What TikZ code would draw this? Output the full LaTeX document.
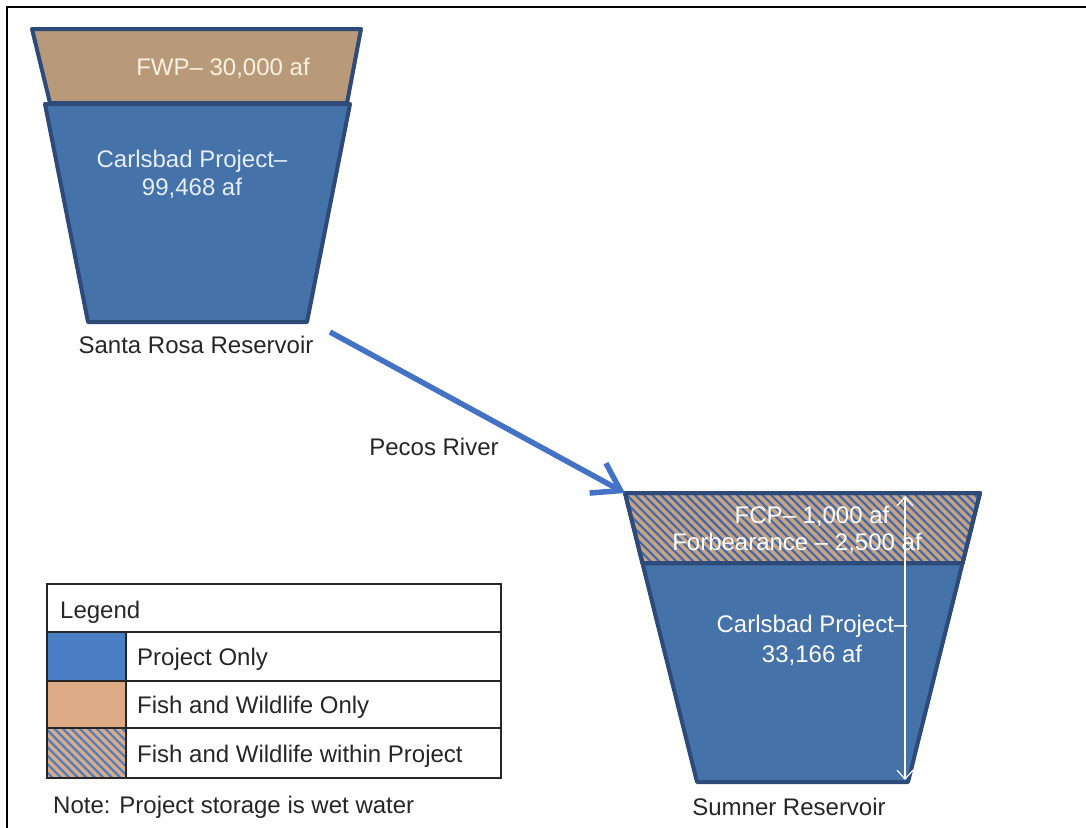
\documentclass[tikz,border=0pt]{standalone}
\usepackage{fontspec}
\setmainfont{Liberation Sans}
\usepackage{xcolor}
\usepackage{tikz}
\usetikzlibrary{arrows.meta,positioning,patterns.meta}
\definecolor{projblue}{HTML}{4672AA}
\definecolor{edgeblue}{HTML}{2E4A78}
\definecolor{fwtan}{HTML}{B89A7A}
\definecolor{hatchtan}{HTML}{C9A27E}
\definecolor{legblue}{HTML}{4A7EC4}
\definecolor{legtan}{HTML}{DCAA84}
\definecolor{hatchblue}{HTML}{3F68B0}
\definecolor{riverblue}{HTML}{4472C4}
\definecolor{bk85}{HTML}{262626}
\definecolor{cream}{HTML}{FBF1E0}
\definecolor{paleblue}{HTML}{E6EEF8}
\tikzset{
  bigfont/.style={font=\fontsize{24}{28}\selectfont},
  reslabel/.style={bigfont, text=bk85, inner sep=0pt, anchor=base},
  intext/.style={bigfont, text=#1, inner sep=0pt, anchor=base},
  intext/.default=white,
  legtext/.style={bigfont, text=bk85, inner sep=0pt, anchor=base west},
  resshape/.style={draw=edgeblue, line width=4pt, line join=round, fill=#1},
  hatched/.style={pattern={Lines[angle=-45,distance=6pt,line width=2.2pt]},
    pattern color=#1},
  hatched/.default=hatchblue,
  riverarrow/.style={-{Straight Barb[length=26pt,width=34pt]}, line width=5.5pt,
    color=riverblue},
  dimarrow/.style={{Straight Barb[length=9pt,width=16pt]}-{Straight Barb[length=9pt,width=16pt]},
    line width=1.2pt, white},
  legline/.style={draw=bk85, line width=2pt},
}
\begin{document}
\begin{tikzpicture}[x=1pt, y=-1pt]
  \useasboundingbox (0,0) rectangle (1086,827);
  \draw[line width=2pt] (7,7) rectangle (1120,860);

  % Santa Rosa
  \filldraw[resshape=fwtan] (32,29) -- (361,29) -- (347,103) -- (50,103) -- cycle;
  \filldraw[resshape=projblue] (45,104) -- (350,104) -- (307,322) -- (88,322) -- cycle;
  \node[intext=cream] (fwp) at (223,75) {FWP– 30,000 af};
  \node[intext=paleblue] (rosacp) at (192,167) {Carlsbad Project–};
  \node[intext=paleblue] (rosaaf) at (192,195) {99,468 af};
  \node[reslabel] (rosa) at (196,353) {Santa Rosa Reservoir};

  % Sumner
  \coordinate (sumnertl) at (625,493);
  \filldraw[resshape=projblue] (642.4,563) -- (962.6,563) -- (908,782) -- (697,782) -- cycle;
  \filldraw[resshape=hatchtan, postaction={hatched}] (sumnertl) -- (980,493) -- (962.6,563) -- (642.4,563) -- cycle;
  \draw[resshape=none] (sumnertl) -- (980,493) -- (962.6,563) -- (642.4,563) -- cycle;
  \node[intext] (fcp) at (812,523) {FCP– 1,000 af};
  \node[intext] (forb) at (797,550) {Forbearance – 2,500 af};
  \node[intext] (sumnercp) at (812,632) {Carlsbad Project–};
  \node[intext] (sumneraf) at (812,662) {33,166 af};
  \coordinate (dimtop) at (905,496);
  \coordinate (dimbot) at (905,780);
  \draw[dimarrow] (dimtop) -- (dimbot);
  \node[reslabel] (sumner) at (789,815) {Sumner Reservoir};

  % river
  \coordinate (rosaout) at (330,332);
  \draw[riverarrow] (rosaout) -- (sumnertl);
  \node[reslabel] (pecos) at (434,455) {Pecos River};

  % legend
  \fill[legblue] (47,632) rectangle (126,681);
  \fill[legtan] (47,681) rectangle (126,778);
  \fill[hatched=legblue] (47,728) rectangle (126,778);
  \draw[legline] (47,584) rectangle (501,778);
  \foreach \y in {632,681,728} { \draw[legline] (47,\y) -- (501,\y); }
  \draw[legline] (126,632) -- (126,778);
  \node[legtext] (leghead) at (60,618) {Legend};
  \node[legtext] (legproj) at (137,665) {Project Only};
  \node[legtext] (legfish) at (137,713) {Fish and Wildlife Only};
  \node[legtext] (legboth) at (137,762) {Fish and Wildlife within Project};
  \node[legtext] (note) at (53,813) {Note: Project storage is wet water};
\end{tikzpicture}
\end{document}
